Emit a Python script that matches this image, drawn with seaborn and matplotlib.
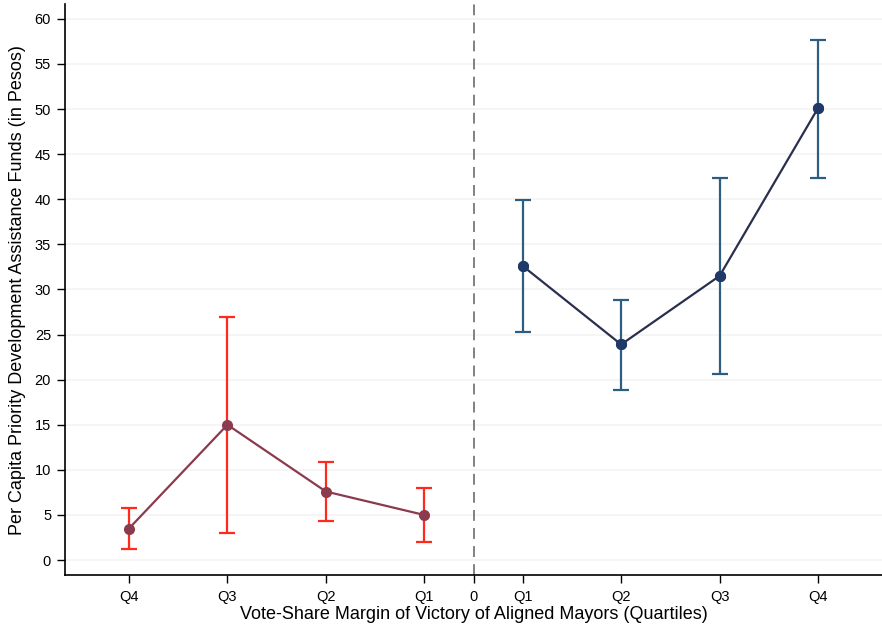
import matplotlib
matplotlib.use("Agg")
import matplotlib.pyplot as plt
import seaborn as sns
import pandas as pd

# quartile positions (0 = threshold)
left_labels = ['Q4', 'Q3', 'Q2', 'Q1']
left_x = [-3.5, -2.5, -1.5, -0.5]
left_mean = [3.5, 15.0, 7.6, 5.0]
left_lo = [1.2, 3.0, 4.3, 2.0]
left_hi = [5.8, 27.0, 10.9, 8.0]

right_labels = ['Q1', 'Q2', 'Q3', 'Q4']
right_x = [0.5, 1.5, 2.5, 3.5]
right_mean = [32.6, 23.9, 31.5, 50.1]
right_lo = [25.3, 18.9, 20.6, 42.4]
right_hi = [39.9, 28.8, 42.3, 57.7]

sns.set_style('white')
plt.rcParams['font.family'] = ['Liberation Sans', 'DejaVu Sans']
plt.rcParams['text.color'] = 'black'
plt.rcParams['axes.labelcolor'] = 'black'
plt.rcParams['xtick.color'] = 'black'
plt.rcParams['ytick.color'] = 'black'

fig = plt.figure(figsize=(8.82, 6.27), dpi=100)
ax = fig.add_axes([0.0737, 0.083, 0.9263, 0.91])

for y in range(0, 61, 5):
    ax.axhline(y, color='#f3f3f3', lw=1.2, zorder=0)
ax.axvline(0, color='#777777', lw=1.3, ls=(0, (6, 4)), zorder=1)

left = pd.DataFrame({'x': left_x, 'y': left_mean})
right = pd.DataFrame({'x': right_x, 'y': right_mean})

ax.errorbar(left_x, left_mean,
            yerr=[[m - l for m, l in zip(left_mean, left_lo)],
                  [h - m for m, h in zip(left_mean, left_hi)]],
            fmt='none', ecolor='#ff2a1a', elinewidth=1.6, capsize=6, capthick=1.6, zorder=2)
ax.errorbar(right_x, right_mean,
            yerr=[[m - l for m, l in zip(right_mean, right_lo)],
                  [h - m for m, h in zip(right_mean, right_hi)]],
            fmt='none', ecolor='#2e5d82', elinewidth=1.6, capsize=6, capthick=1.6, zorder=2)

sns.lineplot(data=left, x='x', y='y', ax=ax, color='#8c3a4e', lw=1.6,
             marker='o', markersize=8, markeredgewidth=0, zorder=3)
sns.lineplot(data=right, x='x', y='y', ax=ax, color='#2a2f4e', lw=1.6,
             marker='o', markersize=8, markeredgewidth=0, zorder=3)
ax.plot(right_x, right_mean, 'o', color='#1f3a68', ms=8, mew=0, zorder=4)

ax.set_xlim(-4.15, 4.15)
ax.set_ylim(-1.65, 61.6)
ax.set_xticks(left_x + [0] + right_x)
ax.set_xticklabels(left_labels + ['0'] + right_labels, fontsize=10.5)
ax.set_yticks(range(0, 61, 5))
ax.tick_params(axis='y', labelsize=10.5, length=6, width=1, direction='out', left=True, pad=4)
ax.tick_params(axis='x', length=6, width=1, direction='out', bottom=True, pad=5)

for s in ['top', 'right']:
    ax.spines[s].set_visible(False)
for s in ['left', 'bottom']:
    ax.spines[s].set_color('black')
    ax.spines[s].set_linewidth(1.2)

ax.set_xlabel('Vote-Share Margin of Victory of Aligned Mayors (Quartiles)', fontsize=13, labelpad=1)
ax.set_ylabel('Per Capita Priority Development Assistance Funds (in Pesos)', fontsize=13, labelpad=6)

fig.savefig('out.png', dpi=100)
